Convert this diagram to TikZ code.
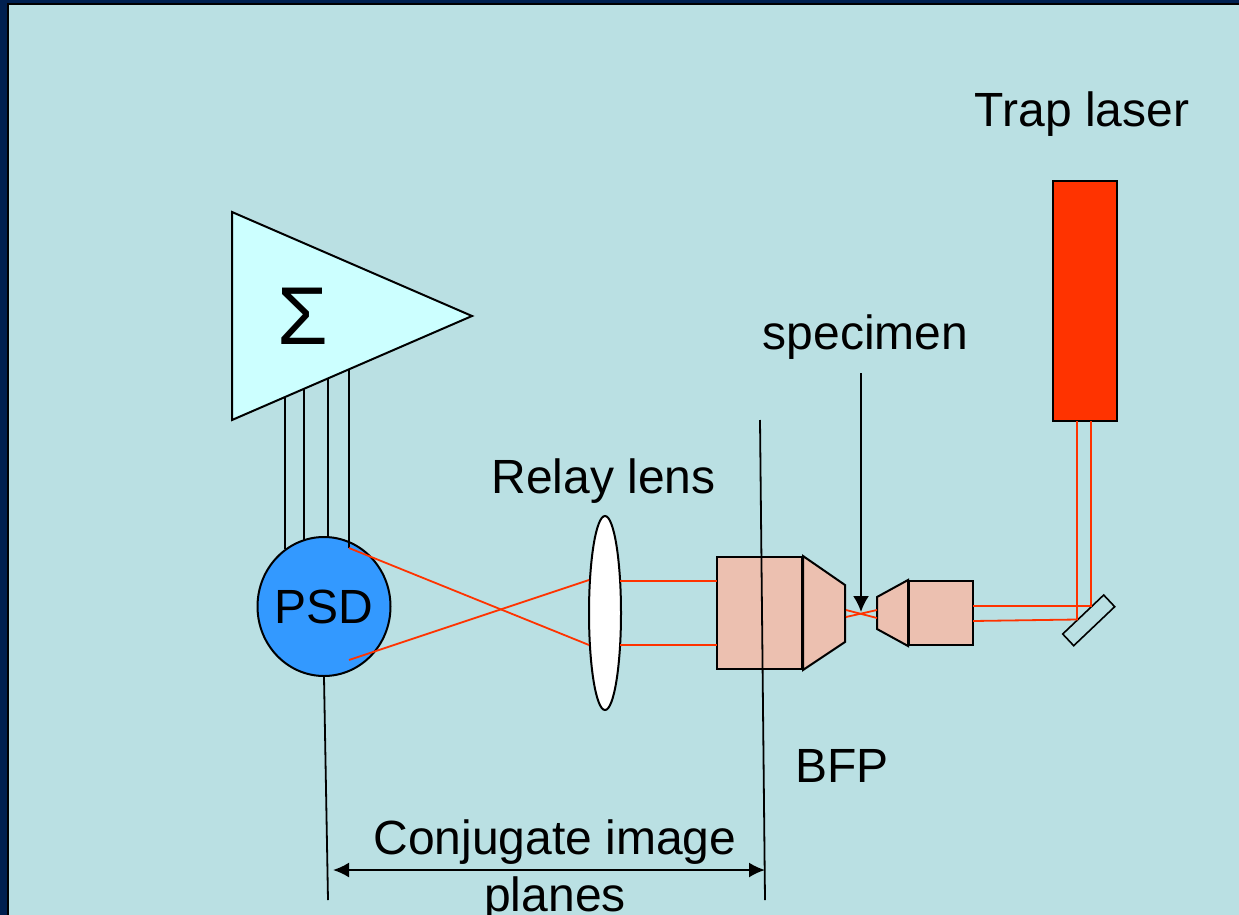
\documentclass[tikz,border=0pt]{standalone}
\usepackage{fontspec}
\setmainfont{Liberation Sans}
\usetikzlibrary{arrows.meta,shapes.geometric}
\definecolor{slidebg}{HTML}{BAE0E3}
\definecolor{slideedge}{HTML}{002050}
\definecolor{beamred}{HTML}{FF3300}
\definecolor{lensbody}{HTML}{ECC0B0}
\definecolor{psdblue}{HTML}{3399FF}
\definecolor{ampcyan}{HTML}{CCFFFF}
\tikzstyle{caption}=[inner sep=0pt,font=\fontsize{48}{50}\selectfont]
\tikzstyle{part}=[draw=black,line width=2pt,line join=miter]
\tikzstyle{beam}=[draw=beamred,line width=1.8pt]
\tikzstyle{wire}=[draw=black,line width=1.8pt]
\tikzstyle{pointer}=[draw=black,line width=2pt]
\tikzstyle{box}=[part,fill=lensbody,shape=rectangle,inner sep=0pt]
\begin{document}
\begin{tikzpicture}[x=1pt,y=-1pt]
\useasboundingbox (0,0) rectangle (1239,915);
\clip (0,0) rectangle (1239,915);
% background
\fill[slideedge] (0,0) rectangle (1239,915);
\fill[black] (7,3) rectangle (1239,915);
\fill[slidebg] (9,5) rectangle (1239,915);

% amplifier
\coordinate (amp_a) at (232,212);
\coordinate (amp_b) at (472,316);
\coordinate (amp_c) at (232,420);
\draw[part,fill=ampcyan] (amp_a) -- (amp_b) -- (amp_c) -- cycle;
\node[inner sep=0pt,font=\fontsize{82}{84}\selectfont] (sigma) at (303,316) {Σ};

% detector and its wires
\node[part,caption,shape=ellipse,fill=psdblue,inner xsep=-3pt,minimum width=133pt,minimum height=139pt] (psd) at (324,606.5) {PSD};
\foreach \n/\x/\top/\bot in {1/285/397/549,2/304/389/540,3/328/378/537,4/349/369/548}{
  \coordinate (w\n_t) at (\x,\top);
  \coordinate (w\n_b) at (\x,\bot);
  \draw[wire] (w\n_t) -- (w\n_b);
}

% relay lens
\node[part,shape=ellipse,fill=white,minimum width=32pt,minimum height=194pt,inner sep=0pt] (relay) at (605,613) {};

% objectives
\node[box,minimum width=85pt,minimum height=112pt] (obj1) at (759.5,613) {};
\coordinate (obj1_a) at (845,585);
\coordinate (obj1_b) at (845,642);
\draw[part,fill=lensbody] (obj1.north east) -- (obj1_a) -- (obj1_b) -- (obj1.south east) -- cycle;
\node[box,minimum width=64pt,minimum height=64pt] (obj2) at (941,613) {};
\coordinate (obj2_a) at (877,597);
\coordinate (obj2_b) at (877,629);
\draw[part,fill=lensbody] (obj2.north west) -- (obj2_a) -- (obj2_b) -- (obj2.south west) -- cycle;

% laser and mirror
\node[part,shape=rectangle,fill=beamred,minimum width=64pt,minimum height=240pt,inner sep=0pt] (laser) at (1085,301) {};
\coordinate (mir_a) at (1103.7,595);
\coordinate (mir_b) at (1114.7,606.7);
\coordinate (mir_c) at (1073.7,645.7);
\coordinate (mir_d) at (1062.7,634);
\draw[part,line width=1.6pt] (mir_a) -- (mir_b) -- (mir_c) -- (mir_d) -- cycle;

% beams
\coordinate (psd_u) at (349,548);
\coordinate (psd_l) at (349,660);
\coordinate (rel_lu) at (589,580);
\coordinate (rel_ll) at (589,645);
\coordinate (rel_ru) at (620,581);
\coordinate (rel_rl) at (620,645);
\coordinate (obj_lu) at (717,581);
\coordinate (obj_ll) at (717,645);
\draw[beam] (psd_u) -- (rel_ll);
\draw[beam] (psd_l) -- (rel_lu);
\draw[beam] (rel_ru) -- (obj_lu);
\draw[beam] (rel_rl) -- (obj_ll);
\coordinate (foc_a) at (846,610);
\coordinate (foc_b) at (846,617);
\coordinate (foc_c) at (877,618);
\coordinate (foc_d) at (877,610);
\draw[beam] (foc_a) -- (foc_c);
\draw[beam] (foc_b) -- (foc_d);
\coordinate (out_u) at (973,606);
\coordinate (out_l) at (973,621);
\coordinate (mir_u) at (1091,606);
\coordinate (mir_l) at (1077,619.5);
\coordinate (las_u) at (1091,421);
\coordinate (las_l) at (1077,421);
\draw[beam] (out_u) -- (mir_u) -- (las_u);
\draw[beam] (out_l) -- (mir_l) -- (las_l);

% image planes
\coordinate (bfp_t) at (760,420);
\coordinate (bfp_b) at (765,900);
\coordinate (psd_b) at (328,900);
\draw[wire] (bfp_t) -- (bfp_b);
\draw[wire] (psd.south) -- (psd_b);
\coordinate (conj_l) at (333,870);
\coordinate (conj_r) at (765,870);
\draw[pointer,{Latex[length=16pt,width=15pt]}-{Latex[length=16pt,width=15pt]}] (conj_l) -- (conj_r);

% labels
\node[caption] (traplabel) at (1082,114) {Trap laser};
\node[caption] (speclabel) at (865.5,337) {specimen};
\node[caption] (relaylabel) at (603.5,481) {Relay lens};
\node[caption] (bfplabel) at (842,765.5) {BFP};
\node[caption] (conjlabel) at (555,842) {Conjugate image};
\node[caption] (planeslabel) at (555,899) {planes};
\coordinate (spec_t) at (861,373);
\coordinate (spec_b) at (861,612);
\draw[pointer,-{Latex[length=16pt,width=16pt]}] (spec_t) -- (spec_b);
\end{tikzpicture}
\end{document}
